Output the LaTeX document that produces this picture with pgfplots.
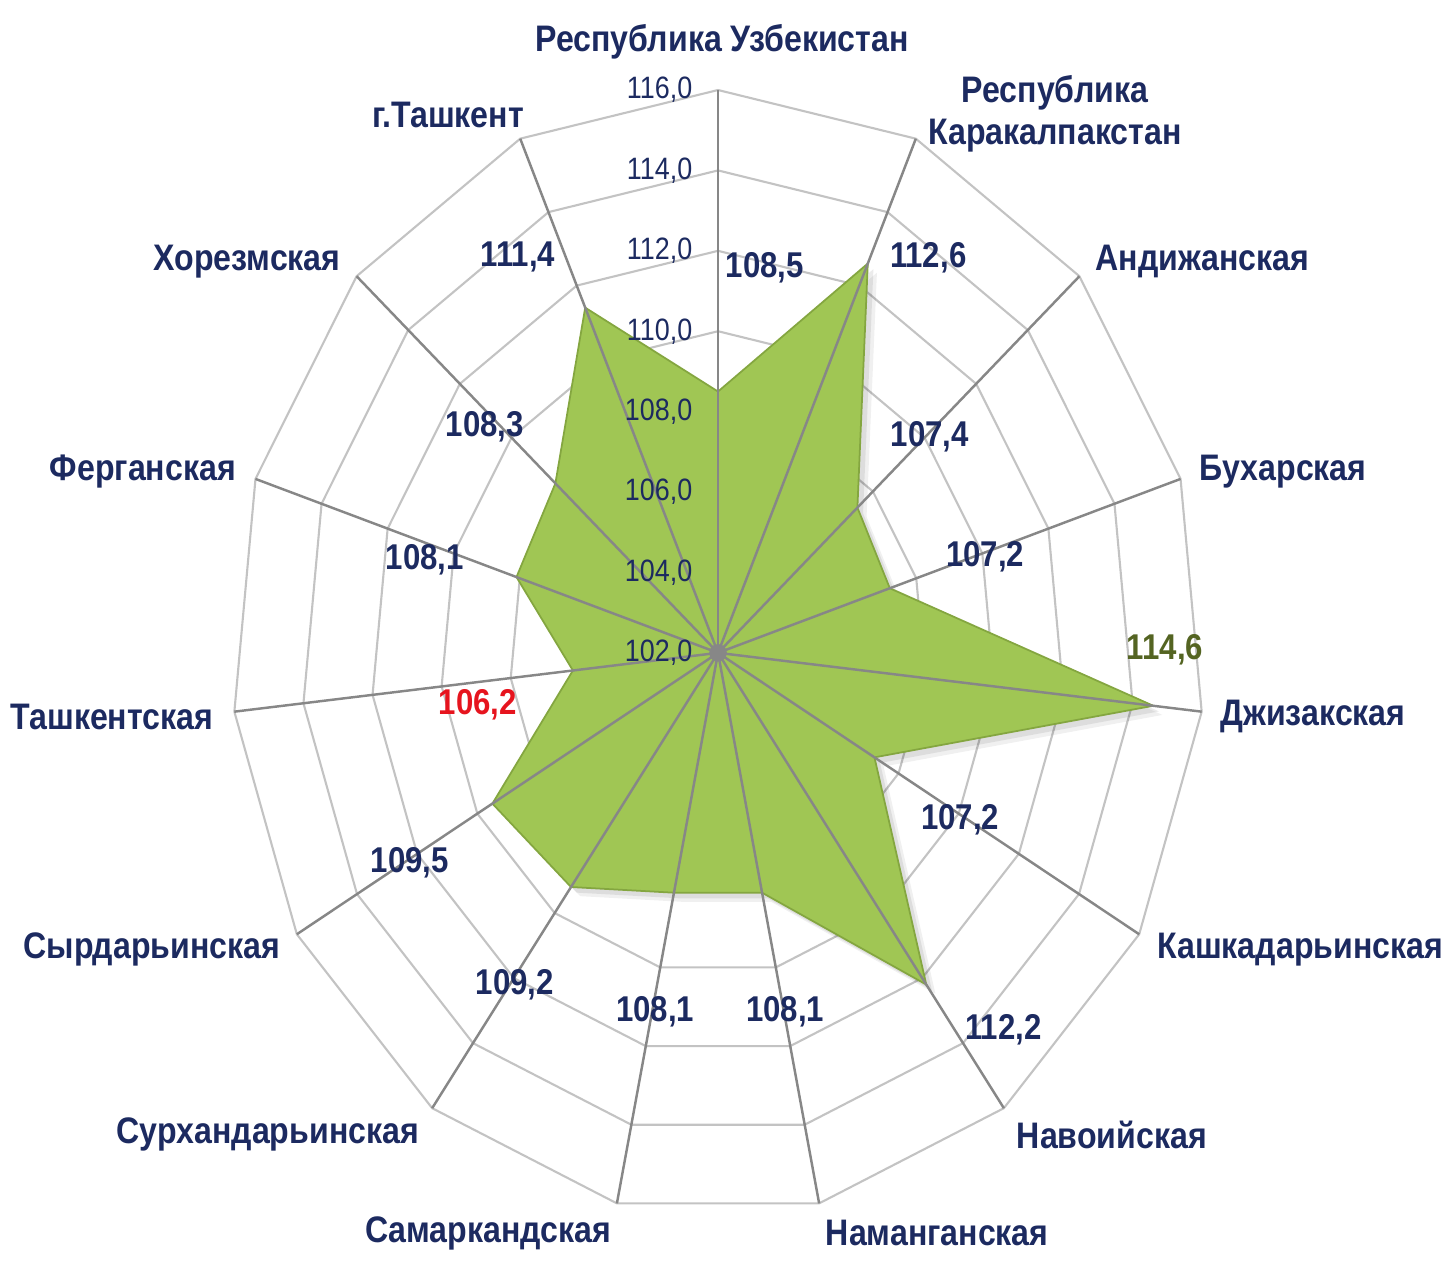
\documentclass[border=0pt]{standalone}
\usepackage{pgfplots}
\pgfplotsset{compat=1.18}
\usepackage{pgfplotstable}
\usepackage{fontspec}
\setmainfont{Liberation Sans}
\newfontfamily\labfont[FakeStretch=0.87]{Liberation Sans}
\definecolor{navy}{RGB}{28,42,96}
\definecolor{fillgreen}{RGB}{160,198,84}
\definecolor{edgegreen}{RGB}{132,166,64}
\definecolor{spoke}{RGB}{135,135,135}
\definecolor{ring}{RGB}{195,195,195}
\definecolor{olivetext}{RGB}{84,100,34}
\definecolor{redtext}{RGB}{230,20,30}

% angle (deg), value
\pgfplotstableread{
a v
90 108.5
66 112.6
42 107.4
18 107.2
-6 114.6
-30 107.2
-54 112.2
-78 108.1
-102 108.1
-126 109.2
-150 109.5
-174 106.2
-198 108.1
-222 108.3
-246 111.4
90 108.5
}\data

\begin{document}
\begin{tikzpicture}
\begin{axis}[at={(0,0)}, anchor=south west,
  width=14.44cm, height=12.8cm, scale only axis, hide axis,
  xmin=-20.67, xmax=20.90, ymin=-15.60, ymax=16.24, clip=false]
% rings 104..116
\pgfplotsinvokeforeach{2,4,...,14}{
  \addplot[ring, line width=0.6pt, mark=none] table[x expr={#1*cos(\thisrow{a})}, y expr={#1*sin(\thisrow{a})}] {\data};
}
% soft shadow
\addplot[draw=none, fill=black, fill opacity=0.06, mark=none, shift={(2.6pt,-2.6pt)}]
  table[x expr={(\thisrow{v}-102)*cos(\thisrow{a})}, y expr={(\thisrow{v}-102)*sin(\thisrow{a})}] {\data};
\addplot[draw=none, fill=black, fill opacity=0.08, mark=none, shift={(1.6pt,-1.6pt)}]
  table[x expr={(\thisrow{v}-102)*cos(\thisrow{a})}, y expr={(\thisrow{v}-102)*sin(\thisrow{a})}] {\data};
% data
\addplot[fill=fillgreen, draw=edgegreen, line width=0.5pt, mark=none]
  table[x expr={(\thisrow{v}-102)*cos(\thisrow{a})}, y expr={(\thisrow{v}-102)*sin(\thisrow{a})}] {\data};
% spokes
\pgfplotsinvokeforeach{0,...,14}{
  \draw[spoke, line width=0.7pt] (axis cs:0,0) -- (axis cs:{14*cos(90-24*#1)},{14*sin(90-24*#1)});
}
\addplot[only marks, mark=*, mark size=2.3pt, color=spoke] coordinates {(0,0)};

% radial tick labels
\begin{scope}[every node/.style={anchor=east, text=navy, font=\labfont\fontsize{8.8}{10}\selectfont, inner sep=0pt}]
\node at (axis cs:-0.72,0) {102,0};
\node at (axis cs:-0.72,2) {104,0};
\node at (axis cs:-0.72,4) {106,0};
\node at (axis cs:-0.72,6) {108,0};
\node at (axis cs:-0.72,8) {110,0};
\node at (axis cs:-0.72,10) {112,0};
\node at (axis cs:-0.72,12) {114,0};
\node at (axis cs:-0.72,14) {116,0};
\end{scope}

% value labels
\begin{scope}[every node/.style={text=navy, font=\labfont\bfseries\fontsize{10.2}{12}\selectfont, inner sep=0pt}]
\node at (axis cs:1.35,9.58) {108,5};
\node at (axis cs:6.05,9.83) {112,6};
\node at (axis cs:6.10,5.37) {107,4};
\node at (axis cs:7.69,2.39) {107,2};
\node[text=olivetext] at (axis cs:12.87,0.07) {114,6};
\node at (axis cs:6.97,-4.15) {107,2};
\node at (axis cs:8.21,-9.38) {112,2};
\node at (axis cs:1.93,-8.93) {108,1};
\node at (axis cs:-1.81,-8.93) {108,1};
\node at (axis cs:-5.85,-8.26) {109,2};
\node at (axis cs:-8.87,-5.22) {109,5};
\node[text=redtext] at (axis cs:-6.91,-1.29) {106,2};
\node at (axis cs:-8.44,2.31) {108,1};
\node at (axis cs:-6.71,5.62) {108,3};
\node at (axis cs:-5.76,9.85) {111,4};
\end{scope}

% category labels
\begin{scope}[every node/.style={text=navy, font=\labfont\bfseries\fontsize{10.5}{12.2}\selectfont, inner sep=0pt, align=center}]
\node at (axis cs:0.12,15.20) {Республика Узбекистан};
\node at (axis cs:9.70,13.41) {Республика\\Каракалпакстан};
\node at (axis cs:13.94,9.73) {Андижанская};
\node at (axis cs:16.27,4.50) {Бухарская};
\node at (axis cs:17.13,-1.59) {Джизакская};
\node at (axis cs:16.76,-7.39) {Кашкадарьинская};
\node at (axis cs:11.34,-11.99) {Навоийская};
\node at (axis cs:6.31,-14.43) {Наманганская};
\node at (axis cs:-6.62,-14.43) {Самаркандская};
\node at (axis cs:-12.96,-11.99) {Сурхандарьинская};
\node at (axis cs:-16.30,-7.39) {Сырдарьинская};
\node at (axis cs:-17.45,-1.59) {Ташкентская};
\node at (axis cs:-16.56,4.50) {Ферганская};
\node at (axis cs:-13.56,9.73) {Хорезмская};
\node at (axis cs:-7.77,13.38) {г.Ташкент};
\end{scope}
\end{axis}
\path (0,0) rectangle (14.44cm,12.8cm);
\end{tikzpicture}
\end{document}
